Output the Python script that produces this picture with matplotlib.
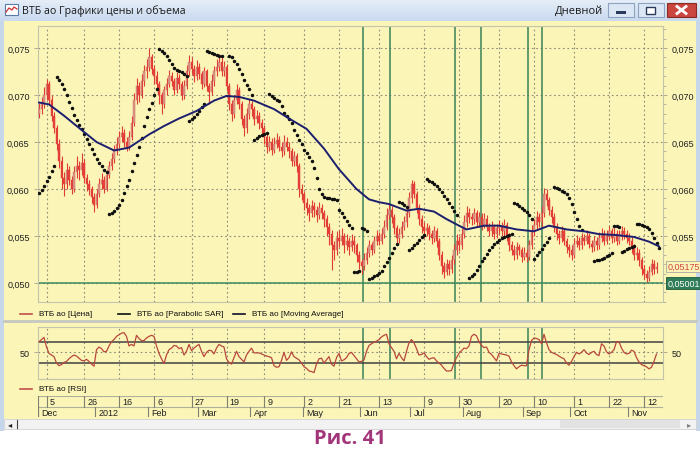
import numpy as np
import matplotlib.pyplot as plt
from matplotlib.patches import Rectangle
from matplotlib.ticker import MultipleLocator

# Price bars (one value per trading day).
close = [
    0.0685, 0.0690, 0.0700, 0.0712, 0.0695, 0.0678, 0.0665, 0.0648, 0.0630, 0.0612,
    0.0605, 0.0620, 0.0610, 0.0600, 0.0618, 0.0625, 0.0620, 0.0628, 0.0612, 0.0605,
    0.0600, 0.0592, 0.0583, 0.0595, 0.0605, 0.0610, 0.0600, 0.0615, 0.0625, 0.0632,
    0.0640, 0.0648, 0.0655, 0.0660, 0.0650, 0.0645, 0.0655, 0.0670, 0.0695, 0.0710,
    0.0700, 0.0715, 0.0725, 0.0730, 0.0740, 0.0728, 0.0720, 0.0712, 0.0700, 0.0690,
    0.0705, 0.0712, 0.0720, 0.0715, 0.0705, 0.0718, 0.0712, 0.0700, 0.0710, 0.0725,
    0.0735, 0.0728, 0.0720, 0.0730, 0.0722, 0.0712, 0.0725, 0.0710, 0.0703, 0.0715,
    0.0725, 0.0730, 0.0735, 0.0725, 0.0730, 0.0710, 0.0690, 0.0680, 0.0695, 0.0705,
    0.0690, 0.0675, 0.0665, 0.0680, 0.0690, 0.0685, 0.0675, 0.0678, 0.0670, 0.0665,
    0.0655, 0.0645, 0.0650, 0.0642, 0.0648, 0.0652, 0.0645, 0.0640, 0.0650, 0.0645,
    0.0640, 0.0630, 0.0635, 0.0625, 0.0600, 0.0595, 0.0585, 0.0580, 0.0575, 0.0582,
    0.0578, 0.0572, 0.0580, 0.0575, 0.0568, 0.0560, 0.0552, 0.0540, 0.0535, 0.0548,
    0.0545, 0.0550, 0.0540, 0.0545, 0.0538, 0.0545, 0.0540, 0.0530, 0.0522, 0.0518,
    0.0525, 0.0532, 0.0540, 0.0535, 0.0545, 0.0550, 0.0545, 0.0552, 0.0560, 0.0572,
    0.0578, 0.0570, 0.0558, 0.0548, 0.0552, 0.0560, 0.0565, 0.0575, 0.0590, 0.0605,
    0.0595, 0.0580, 0.0568, 0.0560, 0.0555, 0.0558, 0.0552, 0.0548, 0.0555, 0.0545,
    0.0530, 0.0518, 0.0512, 0.0520, 0.0515, 0.0525, 0.0535, 0.0545, 0.0540, 0.0552,
    0.0565, 0.0575, 0.0570, 0.0568, 0.0575, 0.0565, 0.0570, 0.0562, 0.0568, 0.0560,
    0.0555, 0.0560, 0.0552, 0.0558, 0.0560, 0.0555, 0.0562, 0.0550, 0.0540, 0.0535,
    0.0530, 0.0538, 0.0535, 0.0528, 0.0532, 0.0528, 0.0540, 0.0555, 0.0562, 0.0570,
    0.0565, 0.0575, 0.0595, 0.0588, 0.0578, 0.0570, 0.0560, 0.0552, 0.0548, 0.0555,
    0.0545, 0.0538, 0.0535, 0.0530, 0.0542, 0.0545, 0.0540, 0.0548, 0.0545, 0.0550,
    0.0542, 0.0538, 0.0545, 0.0540, 0.0548, 0.0552, 0.0545, 0.0550, 0.0555, 0.0548,
    0.0552, 0.0545, 0.0550, 0.0555, 0.0552, 0.0548, 0.0545, 0.0538, 0.0530, 0.0532,
    0.0525, 0.0515, 0.0510, 0.0505, 0.0512, 0.0520, 0.0515, 0.05175]

high = [
    0.0692, 0.0698, 0.0708, 0.0717, 0.0715, 0.0700, 0.0682, 0.0668, 0.0653, 0.0635,
    0.0618, 0.0628, 0.0625, 0.0614, 0.0624, 0.0635, 0.0630, 0.0638, 0.0632, 0.0616,
    0.0610, 0.0603, 0.0596, 0.0600, 0.0612, 0.0617, 0.0614, 0.0620, 0.0630, 0.0638,
    0.0647, 0.0655, 0.0662, 0.0667, 0.0664, 0.0655, 0.0662, 0.0678, 0.0702, 0.0718,
    0.0714, 0.0722, 0.0732, 0.0738, 0.0750, 0.0744, 0.0732, 0.0725, 0.0715, 0.0703,
    0.0710, 0.0718, 0.0727, 0.0724, 0.0718, 0.0724, 0.0722, 0.0715, 0.0716, 0.0732,
    0.0743, 0.0740, 0.0732, 0.0737, 0.0734, 0.0726, 0.0730, 0.0728, 0.0713, 0.0722,
    0.0731, 0.0738, 0.0744, 0.0740, 0.0736, 0.0733, 0.0713, 0.0695, 0.0700, 0.0712,
    0.0708, 0.0694, 0.0679, 0.0686, 0.0696, 0.0694, 0.0688, 0.0684, 0.0682, 0.0674,
    0.0668, 0.0658, 0.0656, 0.0654, 0.0655, 0.0660, 0.0656, 0.0650, 0.0657, 0.0655,
    0.0650, 0.0644, 0.0640, 0.0638, 0.0628, 0.0605, 0.0598, 0.0590, 0.0584, 0.0588,
    0.0586, 0.0582, 0.0586, 0.0584, 0.0578, 0.0572, 0.0564, 0.0556, 0.0545, 0.0555,
    0.0556, 0.0558, 0.0553, 0.0552, 0.0549, 0.0552, 0.0550, 0.0543, 0.0534, 0.0526,
    0.0532, 0.0538, 0.0546, 0.0544, 0.0550, 0.0556, 0.0554, 0.0558, 0.0567, 0.0580,
    0.0585, 0.0582, 0.0573, 0.0562, 0.0558, 0.0566, 0.0571, 0.0581, 0.0597, 0.0610,
    0.0608, 0.0598, 0.0584, 0.0572, 0.0565, 0.0564, 0.0562, 0.0556, 0.0561, 0.0558,
    0.0548, 0.0534, 0.0522, 0.0526, 0.0525, 0.0530, 0.0541, 0.0552, 0.0550, 0.0558,
    0.0572, 0.0582, 0.0580, 0.0575, 0.0580, 0.0578, 0.0576, 0.0574, 0.0574, 0.0572,
    0.0564, 0.0566, 0.0563, 0.0563, 0.0567, 0.0565, 0.0568, 0.0565, 0.0553, 0.0545,
    0.0540, 0.0544, 0.0542, 0.0538, 0.0538, 0.0536, 0.0546, 0.0562, 0.0568, 0.0577,
    0.0574, 0.0582, 0.0601, 0.0600, 0.0592, 0.0582, 0.0574, 0.0564, 0.0556, 0.0561,
    0.0558, 0.0548, 0.0542, 0.0540, 0.0548, 0.0551, 0.0549, 0.0553, 0.0552, 0.0556,
    0.0553, 0.0546, 0.0550, 0.0549, 0.0554, 0.0558, 0.0556, 0.0556, 0.0561, 0.0558,
    0.0558, 0.0556, 0.0556, 0.0561, 0.0560, 0.0556, 0.0553, 0.0549, 0.0542, 0.0538,
    0.0536, 0.0528, 0.0519, 0.0514, 0.0518, 0.0526, 0.0524, 0.0522]

low = [
    0.0676, 0.0680, 0.0686, 0.0695, 0.0690, 0.0672, 0.0660, 0.0642, 0.0622, 0.0600,
    0.0593, 0.0600, 0.0604, 0.0595, 0.0597, 0.0612, 0.0610, 0.0615, 0.0606, 0.0598,
    0.0594, 0.0585, 0.0576, 0.0580, 0.0592, 0.0600, 0.0596, 0.0598, 0.0612, 0.0620,
    0.0628, 0.0636, 0.0644, 0.0650, 0.0645, 0.0640, 0.0642, 0.0652, 0.0667, 0.0690,
    0.0693, 0.0697, 0.0710, 0.0718, 0.0726, 0.0722, 0.0712, 0.0705, 0.0690, 0.0680,
    0.0686, 0.0700, 0.0708, 0.0710, 0.0700, 0.0702, 0.0706, 0.0695, 0.0696, 0.0706,
    0.0720, 0.0722, 0.0714, 0.0716, 0.0717, 0.0706, 0.0708, 0.0704, 0.0690, 0.0700,
    0.0710, 0.0720, 0.0726, 0.0720, 0.0720, 0.0704, 0.0684, 0.0672, 0.0676, 0.0690,
    0.0685, 0.0668, 0.0656, 0.0660, 0.0675, 0.0678, 0.0668, 0.0670, 0.0664, 0.0658,
    0.0648, 0.0638, 0.0640, 0.0636, 0.0638, 0.0644, 0.0640, 0.0634, 0.0636, 0.0640,
    0.0633, 0.0625, 0.0624, 0.0618, 0.0592, 0.0588, 0.0578, 0.0572, 0.0566, 0.0570,
    0.0570, 0.0565, 0.0568, 0.0568, 0.0560, 0.0550, 0.0540, 0.0514, 0.0525, 0.0530,
    0.0538, 0.0540, 0.0532, 0.0535, 0.0530, 0.0534, 0.0532, 0.0522, 0.0515, 0.0510,
    0.0514, 0.0520, 0.0528, 0.0530, 0.0532, 0.0540, 0.0540, 0.0542, 0.0548, 0.0556,
    0.0568, 0.0564, 0.0552, 0.0542, 0.0543, 0.0548, 0.0556, 0.0560, 0.0570, 0.0585,
    0.0590, 0.0575, 0.0562, 0.0553, 0.0548, 0.0550, 0.0546, 0.0542, 0.0544, 0.0538,
    0.0524, 0.0510, 0.0505, 0.0508, 0.0508, 0.0511, 0.0520, 0.0530, 0.0534, 0.0536,
    0.0548, 0.0560, 0.0564, 0.0562, 0.0563, 0.0560, 0.0560, 0.0556, 0.0558, 0.0555,
    0.0550, 0.0550, 0.0547, 0.0548, 0.0552, 0.0550, 0.0550, 0.0545, 0.0534, 0.0530,
    0.0525, 0.0526, 0.0530, 0.0522, 0.0524, 0.0522, 0.0524, 0.0536, 0.0550, 0.0557,
    0.0560, 0.0560, 0.0570, 0.0582, 0.0572, 0.0564, 0.0554, 0.0546, 0.0542, 0.0544,
    0.0540, 0.0532, 0.0528, 0.0524, 0.0527, 0.0538, 0.0535, 0.0536, 0.0540, 0.0541,
    0.0537, 0.0533, 0.0534, 0.0535, 0.0536, 0.0544, 0.0540, 0.0541, 0.0546, 0.0543,
    0.0544, 0.0540, 0.0541, 0.0546, 0.0547, 0.0543, 0.0540, 0.0532, 0.0524, 0.0524,
    0.0518, 0.0508, 0.0504, 0.0501, 0.0502, 0.0508, 0.0510, 0.0511]

firstOpen = 0.0680

# Parabolic SAR dots (None where no dot is drawn).
sar = [
    0.0596, 0.0599, 0.0603, 0.0608, 0.0613, 0.0619, 0.0625,
    0.0719, 0.0716, 0.0712, 0.0706, 0.0700, 0.0693, 0.0686, 0.0679, 0.0673, 0.0668,
    0.0664, 0.0658, 0.0653, 0.0648, 0.0643, 0.0637, 0.0632, 0.0628, 0.0624, 0.0620, 0.0618,
    0.0573, 0.0575, 0.0577, 0.0580, 0.0583, 0.0588, 0.0596, 0.0603, 0.0610, 0.0619,
    0.0628, 0.0636, 0.0645, 0.0654, 0.0667, 0.0677, 0.0685, 0.0692, 0.0700, 0.0706,
    0.0749, 0.0747, 0.0745, 0.0742, 0.0737, 0.0733, 0.0729, 0.0727, 0.0726, 0.0724, 0.0722, 0.0720,
    0.0672, 0.0674, 0.0677, 0.0680, 0.0683, 0.0687, 0.0690,
    0.0747, 0.0746, 0.0745, 0.0744, 0.0743, 0.0742, 0.0741, None, None,
    0.0741, 0.0740, 0.0736, 0.0733, 0.0728, 0.0722, 0.0716, 0.0711, 0.0706, 0.0700,
    0.0652, 0.0654, 0.0656, 0.0657, 0.0659, 0.0660,
    0.0701, 0.0699, 0.0697, 0.0695, 0.0694, 0.0688, 0.0681, 0.0678, 0.0675, 0.0670,
    0.0663, 0.0657, 0.0652, 0.0648, 0.0642, 0.0638, 0.0634, 0.0630, 0.0622, 0.0612,
    0.0600, 0.0595, 0.0591, 0.0590, 0.0590, 0.0589, 0.0589, 0.0588, 0.0578, 0.0574,
    0.0570, 0.0566, 0.0562, 0.0558,
    0.0512, 0.0512, 0.0513,
    0.0559, 0.0557, 0.0555,
    0.0504, 0.0505, 0.0507, 0.0509, 0.0511, 0.0513, 0.0518, 0.0522, 0.0527, 0.0532, 0.0537, 0.0541,
    0.0586, 0.0585, 0.0583, 0.0581,
    0.0535, 0.0537, 0.0540, 0.0543, 0.0546, 0.0549, 0.0551,
    0.0611, 0.0609, 0.0607, 0.0605, 0.0603, 0.0600, 0.0597, 0.0593, 0.0589, 0.0585,
    0.0581, 0.0577, 0.0572,
    None, None, None, None,
    0.0505, 0.0507, 0.0510, 0.0514, 0.0518, 0.0523, 0.0527, 0.0531, 0.0535, 0.0538,
    0.0541, 0.0544, 0.0546, 0.0548, 0.0549, 0.0550, 0.0551, 0.0552,
    0.0585, 0.0584, 0.0582, 0.0580, 0.0578, 0.0576, 0.0572, 0.0568,
    0.0526, 0.0530, 0.0533, 0.0536, 0.0540, 0.0544, 0.0548,
    None,
    0.0602, 0.0601, 0.0600, 0.0598, 0.0597, 0.0595, 0.0590, 0.0584, 0.0576, 0.0568, 0.0561, 0.0556,
    None, None, None, None,
    0.0523, 0.0524, 0.0525, 0.0526, 0.0527, 0.0529, 0.0530, 0.0532,
    0.0561, 0.0561, 0.0560,
    0.0533, 0.0534, 0.0536, 0.0537, 0.0538, 0.0539,
    0.0563, 0.0563, 0.0562, 0.0561, 0.0560, 0.0557, 0.0553, 0.0548, 0.0543, 0.0537]

# Moving average, read at some of the bars.
maBars = [0, 4, 10, 16, 23, 30, 36, 44, 50, 56, 63, 70, 75, 80, 86, 94, 100, 107, 114, 120,
          127, 132, 136, 140, 147, 152, 158, 163, 168, 171, 178, 184, 191, 198, 204, 211,
          218, 224, 231, 238, 244, 248]
maValues = [0.0692, 0.0690, 0.0678, 0.0665, 0.0650, 0.0641, 0.0644, 0.0658, 0.0667, 0.0675,
            0.0683, 0.0694, 0.0699, 0.0698, 0.0694, 0.0685, 0.0675, 0.0664, 0.0643, 0.0621,
            0.0600, 0.0589, 0.0586, 0.0584, 0.0577, 0.0579, 0.0576, 0.0568, 0.0561, 0.0557,
            0.0561, 0.0561, 0.0557, 0.0555, 0.0561, 0.0557, 0.0555, 0.0552, 0.0551, 0.0549,
            0.0544, 0.0539]

# RSI, one value per bar.
rsi = [
    70, 74, 78, 60, 48, 45, 42, 30, 25, 27, 31, 33, 38, 42, 45, 43, 39, 35, 34, 37,
    33, 28, 24, 55, 60, 57, 51, 52, 62, 70, 74, 80, 83, 86, 87, 80, 62, 65, 62, 82,
    76, 72, 72, 77, 80, 82, 80, 62, 48, 38, 29, 45, 55, 58, 63, 62, 57, 59, 45, 52,
    65, 53, 58, 62, 65, 52, 42, 50, 54, 53, 47, 58, 65, 62, 60, 38, 31, 28, 40, 52,
    42, 37, 32, 45, 52, 58, 49, 49, 49, 47, 45, 43, 42, 40, 25, 22, 23, 35, 50, 35,
    40, 51, 42, 39, 36, 30, 23, 20, 15, 14, 12, 28, 38, 39, 30, 36, 42, 28, 24, 40,
    48, 34, 36, 40, 48, 50, 44, 38, 32, 33, 36, 52, 63, 66, 69, 71, 74, 79, 82, 84,
    66, 59, 52, 38, 48, 40, 34, 52, 68, 74, 68, 57, 45, 46, 49, 42, 37, 39, 40, 34,
    30, 26, 20, 15, 15, 16, 30, 40, 48, 53, 58, 57, 62, 80, 84, 81, 70, 63, 59, 60,
    50, 46, 40, 34, 48, 47, 46, 45, 43, 32, 25, 19, 23, 26, 25, 25, 55, 72, 77, 76,
    74, 66, 84, 68, 55, 50, 48, 46, 43, 40, 38, 30, 26, 33, 42, 50, 47, 50, 55, 49,
    46, 50, 52, 46, 44, 66, 62, 51, 47, 50, 55, 70, 70, 58, 50, 47, 48, 54, 52, 40,
    32, 27, 25, 23, 19, 22, 33, 47]

# Signal lines, date grid and month boundaries (bar numbers).
signalBars = [129.6, 140.4, 166.4, 176.8, 195.6, 201.2]
gridBars = [3, 18, 32, 46, 61, 75, 90, 106, 120, 136, 154, 168, 184, 198, 214, 228, 242]
dayLabels = ['5', '26', '16', '6', '27', '19', '9', '2', '21', '13', '9', '30', '20', '10',
             '1', '22', '12']
monthStarts = [-0.5, 22.5, 43.5, 63.5, 84.5, 105.5, 128.5, 148.5, 169.5, 193.5, 212.5, 235.5]
monthLabels = ['Dec', '2012', 'Feb', 'Mar', 'Apr', 'May', 'Jun', 'Jul', 'Aug', 'Sep', 'Oct', 'Nov']

priceTicks = [0.050, 0.055, 0.060, 0.065, 0.070, 0.075]
lastPrice = 0.05175
levelPrice = 0.05001

# Colours and fonts.
yellow = '#fbf5b8'
gridColor = '#8a8a78'
smallFont = ['Liberation Sans', 'DejaVu Sans']
W, H = 700, 452

fig = plt.figure(figsize=(W / 100, H / 100), dpi=100)
fig.patch.set_facecolor('white')

# Background layer in pixel coordinates.
bg = fig.add_axes([0, 0, 1, 1])
bg.axis('off')

grad = np.linspace(0, 1, 22).reshape(-1, 1)
bg.imshow(grad, extent=(0, W, 22, 0), aspect='auto',
          cmap=plt.matplotlib.colors.LinearSegmentedColormap.from_list('t', ['#e6eef8', '#c9daef']))
bg.add_patch(Rectangle((0, 22), W, 398, fc=yellow, ec='none'))
bg.add_patch(Rectangle((0, 22), 4, 410, fc='#c6d7ec', ec='none'))
bg.add_patch(Rectangle((696, 22), 4, 410, fc='#c6d7ec', ec='none'))

# Window icon and title.
bg.add_patch(Rectangle((5, 5), 13, 11, fc='white', ec='#5a7ca8', lw=0.8))
bg.plot([6, 9, 12, 14, 17], [13, 9, 11, 8, 10], color='#d03030', lw=0.9)
bg.text(22, 11.5, 'ВТБ ао Графики цены и объема', fontsize=7.7, family='Open Sans',
        va='center', ha='left', color='#1a1a1a')
bg.text(603, 11.5, 'Дневной', fontsize=7.9, family='Open Sans', va='center', ha='right',
        color='#1a1a1a')

# Window buttons.
bg.add_patch(Rectangle((608, 4), 26, 14, fc='#dce7f5', ec='#8ea3c2', lw=0.8))
bg.add_patch(Rectangle((616, 12), 10, 2.5, fc='#2a3a5a', ec='none'))
bg.add_patch(Rectangle((638, 4), 26, 14, fc='#dce7f5', ec='#8ea3c2', lw=0.8))
bg.add_patch(Rectangle((646, 7.5), 9, 7, fc='white', ec='#2a3a5a', lw=1.0))
bg.add_patch(Rectangle((667, 4), 29, 14, fc='#c9473e', ec='#8a2a24', lw=0.8))
bg.plot([677, 686], [7.5, 14.5], color='white', lw=2)
bg.plot([677, 686], [14.5, 7.5], color='white', lw=2)

# Separator between the price panel and the RSI panel.
bg.plot([4, 696], [322, 322], color='#c4c8c0', lw=2)

# Legends.
legendItems = [(20, 'ВТБ ао [Цена]', '#c0504a'),
               (118, 'ВТБ ао [Parabolic SAR]', '#101010'),
               (233, 'ВТБ ао [Moving Average]', '#101028')]
for xPos, label, colour in legendItems:
    bg.plot([xPos, xPos + 12], [315, 315], color=colour, lw=1.2)
    bg.text(xPos + 19, 315, label, fontsize=5.9, family=smallFont, va='center', color='#101010')
bg.plot([20, 32], [390, 390], color='#c0504a', lw=1.2)
bg.text(39, 390, 'ВТБ ао [RSI]', fontsize=5.9, family=smallFont, va='center', color='#101010')

# Scroll bar.
bg.add_patch(Rectangle((4, 420), 692, 10, fc='#f2f2f2', ec='#d0d0d0', lw=0.6))
bg.add_patch(Rectangle((560, 421), 120, 8, fc='#e2e2e2', ec='none'))
bg.text(10, 425, '◂', fontsize=6, va='center', ha='center', color='#202020')
bg.text(689, 425, '▸', fontsize=6, va='center', ha='center', color='#808080')
bg.plot([17, 17], [421, 429], color='#404040', lw=0.8)

# Figure caption.
bg.text(350, 439, 'Рис. 41', fontsize=14.5, family='Open Sans', fontweight='bold',
        color='#a2357a', ha='center', va='center')

bg.set_xlim(0, W)
bg.set_ylim(H, 0)

# Price panel.
bars = np.arange(len(close))
opens = np.array([firstOpen] + close[:-1])
closes = np.array(close)
rising = closes >= opens

ax = fig.add_axes([38 / W, 1 - 303 / H, 625 / W, 276 / H])
ax.set_facecolor(yellow)
ax.set_xlim(-0.4, 249.6)
ax.set_ylim(0.04798, 0.07734)

for g in gridBars:
    ax.axvline(g, color=gridColor, lw=0.8, ls=(0, (1.5, 2.5)), zorder=1)
for p in priceTicks:
    ax.axhline(p, color=gridColor, lw=0.8, ls=(0, (1.5, 2.5)), zorder=1)
for s in signalBars:
    ax.axvline(s, color='#3a8258', lw=1.1, zorder=2)
ax.axhline(levelPrice, color='#3a8a5e', lw=1.1, zorder=2)

ax.vlines(bars, low, high, color='#e03c36', lw=0.8, zorder=3)
bodyBottom = np.minimum(opens, closes)
bodyHeight = np.maximum(np.abs(closes - opens), 0.00005)
ax.bar(bars[rising], bodyHeight[rising], bottom=bodyBottom[rising], width=0.7,
       color='#d9958a', edgecolor='#d06a60', lw=0.3, zorder=4)
ax.bar(bars[~rising], bodyHeight[~rising], bottom=bodyBottom[~rising], width=0.7,
       color='#e8403a', edgecolor='#e03c36', lw=0.3, zorder=4)

sarArr = np.array(sar, dtype=float)
ax.plot(np.arange(len(sarArr)), sarArr, 'o', ms=1.5, color='#101010', ls='none', zorder=5)
ax.plot(maBars, maValues, color='#1b1f6e', lw=1.4, zorder=6)

ax.set_yticks(priceTicks)
ax.set_yticklabels([f'{p:.3f}'.replace('.', ',') for p in priceTicks])
ax.yaxis.set_minor_locator(MultipleLocator(0.001))
ax.set_xticks([])
ax.tick_params(axis='y', which='major', left=True, right=True, labelleft=True, labelright=True,
               length=3, width=0.6, color='#a0a090', labelsize=6.5, labelcolor='#202020', pad=3)
ax.tick_params(axis='y', which='minor', left=False, right=True, length=2, width=0.5,
               color='#a0a090')
for label in ax.get_yticklabels():
    label.set_family(smallFont)
# the green level box takes the place of the right 0,050 label
ax.yaxis.get_major_ticks()[0].label2.set_visible(False)
for spine in ax.spines.values():
    spine.set_color('#c4c4aa')
    spine.set_linewidth(0.8)

# Price marks on the right edge.
trans = ax.get_yaxis_transform()
ax.text(1.007, lastPrice, '0,05175', transform=trans, fontsize=6.5, family=smallFont,
        color='#d04540', va='center', ha='left',
        bbox=dict(boxstyle='square,pad=0.12', fc=yellow, ec='#a8a8a0', lw=0.6))
ax.text(1.007, levelPrice, '0,05001', transform=trans, fontsize=6.5, family=smallFont,
        color='white', va='center', ha='left',
        bbox=dict(boxstyle='square,pad=0.12', fc='#2f7d58', ec='#1d5a3c', lw=0.6))

# RSI panel.
axR = fig.add_axes([38 / W, 1 - 380 / H, 625 / W, 52 / H])
axR.set_facecolor(yellow)
axR.set_xlim(-0.4, 249.6)
axR.set_ylim(0, 97.6)
for g in gridBars:
    axR.axvline(g, color=gridColor, lw=0.8, ls=(0, (1.5, 2.5)), zorder=1)
axR.axhline(50, color=gridColor, lw=0.8, ls=(0, (1.5, 2.5)), zorder=1)
for s in signalBars:
    axR.axvline(s, color='#3a8258', lw=1.1, zorder=2)
axR.axhline(70, color='#404040', lw=1.1, zorder=2)
axR.axhline(30, color='#404040', lw=1.1, zorder=2)
axR.plot(np.arange(len(rsi)), rsi, color='#b8483c', lw=0.9, zorder=3)
axR.set_yticks([50])
axR.set_yticklabels(['50'])
axR.set_xticks([])
axR.tick_params(axis='y', left=True, right=True, labelleft=True, labelright=True,
                length=3, width=0.6, color='#a0a090', labelsize=6.5, labelcolor='#202020', pad=3)
for label in axR.get_yticklabels():
    label.set_family(smallFont)
for spine in axR.spines.values():
    spine.set_color('#c4c4aa')
    spine.set_linewidth(0.8)

# Date scale: day numbers on top, months below.
axD = fig.add_axes([38 / W, 1 - 418 / H, 625 / W, 21 / H])
axD.set_facecolor(yellow)
axD.set_xlim(-0.4, 249.6)
axD.set_ylim(0, 2)
axD.set_xticks([])
axD.set_yticks([])
for spine in axD.spines.values():
    spine.set_visible(False)
axD.axhline(2, color='#b0b09a', lw=0.8)
axD.axhline(1, color='#b0b09a', lw=0.8)
axD.axvline(-0.4, color='#808070', lw=0.8)
for g, label in zip(gridBars, dayLabels):
    axD.plot([g, g], [1, 2], color='#808070', lw=0.8)
    axD.text(g + 1.3, 1.5, label, fontsize=6.5, family=smallFont, va='center', ha='left',
             color='#202020')
for m, label in zip(monthStarts, monthLabels):
    axD.plot([m, m], [0, 1], color='#808070', lw=0.8)
    axD.text(max(m, -0.4) + 1.3, 0.45, label, fontsize=6.5, family=smallFont, va='center',
             ha='left', color='#202020')

fig.savefig('out.png', dpi=100)
